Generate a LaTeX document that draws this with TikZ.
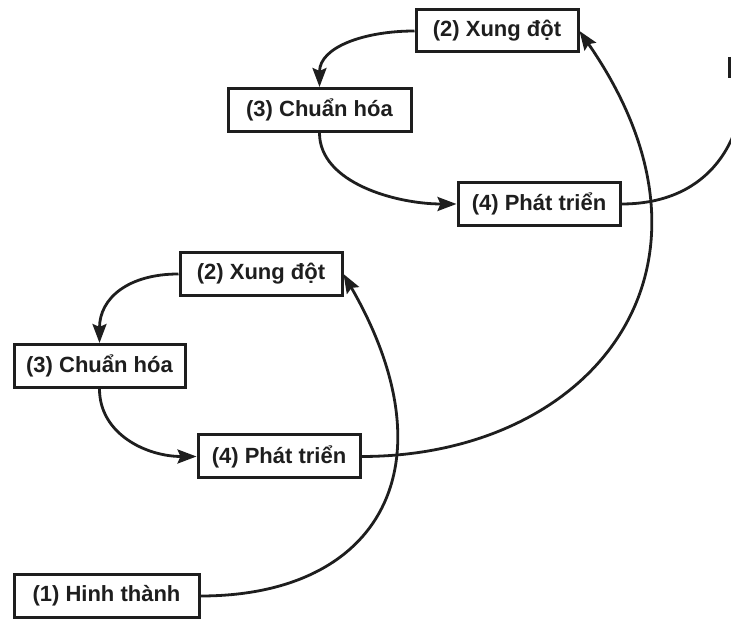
\documentclass[tikz,border=0pt]{standalone}
\usepackage{fontspec}
\setmainfont{Liberation Sans}
\usetikzlibrary{arrows.meta,positioning}
\definecolor{InkBlack}{RGB}{30, 30, 30}
\definecolor{PaperWhite}{RGB}{255, 255, 255}

\begin{document}
\begin{tikzpicture}[
    x=1pt, y=1pt,
    stage/.style={draw=InkBlack, line width=3pt, fill=PaperWhite, rectangle, minimum height=43pt,
      inner xsep=6pt, align=center, font=\fontsize{22}{26}\selectfont\bfseries, text=InkBlack},
    flow/.style={line width=2.8pt, draw=InkBlack, -{Stealth[length=19pt, width=14pt, inset=3pt]}},
    tail/.style={line width=2.8pt, draw=InkBlack}
  ]
    \useasboundingbox (0,0) rectangle (731,621);
    \clip (0,0) rectangle (731,621);

    % first cycle
    \node[stage, minimum width=185pt] (form) at (106.5,25) {(1) Hinh thành};
    \node[stage, minimum width=162pt] (conflictA) at (261,347) {(2) Xung đột};
    \node[stage, minimum width=171pt] (normA) at (99.5,255) {(3) Chuẩn hóa};
    \node[stage, minimum width=162pt] (growA) at (279,164.5) {(4) Phát triển};

    % second cycle
    \node[stage, minimum width=162pt, minimum height=42pt] (conflictB) at (497,590) {(2) Xung đột};
    \node[stage, minimum width=183pt] (normB) at (319.5,511) {(3) Chuẩn hóa};
    \node[stage, minimum width=162pt] (growB) at (539,417) {(4) Phát triển};

    % next cycle, off the page
    \coordinate (onward) at (745,550);
    \draw[line width=3pt, draw=InkBlack] (729.5,564) -- (729.5,543);

    \draw[flow] (form.east) .. controls +(180,0) and +(110,-191) .. (conflictA.east);
    \draw[flow] (conflictA.west) .. controls +(-50,0) and +(0,45) .. (normA.north);
    \draw[flow] (normA.south) .. controls +(0,-45) and +(-50,0) .. (growA.west);

    \draw[flow] (growA.east) .. controls +(230,0) and +(165,-238) .. (conflictB.east);
    \draw[flow] (conflictB.west) .. controls +(-50,0) and +(0,40) .. (normB.north);
    \draw[flow] (normB.south) .. controls +(0,-50) and +(-60,0) .. (growB.west);
    \draw[tail] (growB.east) .. controls +(80,0) and +(0,-80) .. (onward);
  \end{tikzpicture}
\end{document}
